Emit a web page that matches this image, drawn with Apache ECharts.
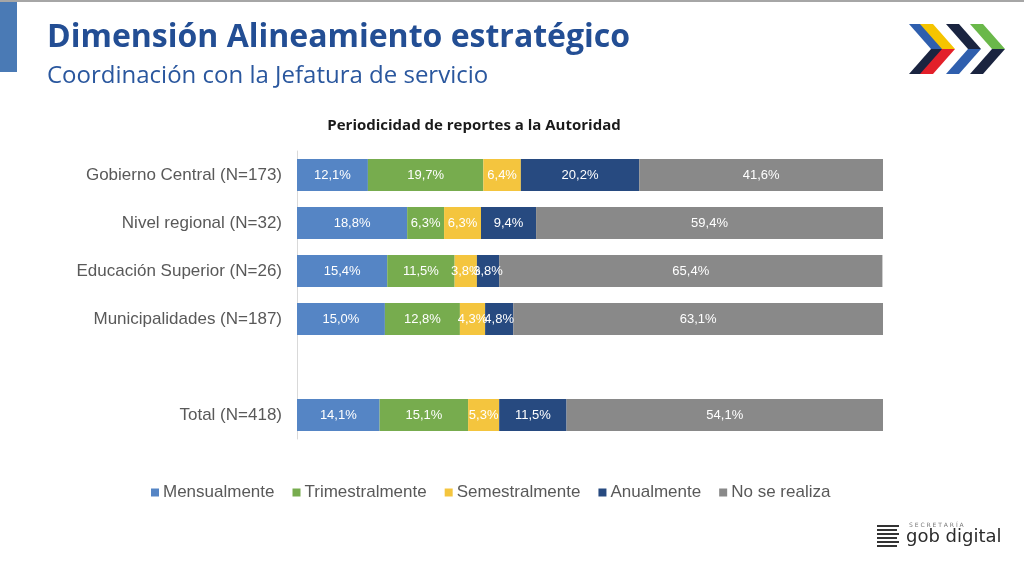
<!DOCTYPE html>
<html><head><meta charset="utf-8">
<script src="https://cdn.jsdelivr.net/npm/echarts@6/dist/echarts.min.js"></script>
<style>html,body{margin:0;padding:0;background:#fff;}#c{width:1024px;height:576px;}</style>
</head><body><div id="c"></div>
<script>
const categories = ['Gobierno Central (N=173)', 'Nivel regional (N=32)', 'Educación Superior (N=26)', 'Municipalidades (N=187)', '', 'Total (N=418)'];
const seriesNames = ['Mensualmente', 'Trimestralmente', 'Semestralmente', 'Anualmente', 'No se realiza'];
const mensualmente = [12.1, 18.8, 15.4, 15.0, null, 14.1];
const trimestralmente = [19.7, 6.3, 11.5, 12.8, null, 15.1];
const semestralmente = [6.4, 6.3, 3.8, 4.3, null, 5.3];
const anualmente = [20.2, 9.4, 3.8, 4.8, null, 11.5];
const noSeRealiza = [41.6, 59.4, 65.4, 63.1, null, 54.1];
const colors = ['#5585C5', '#77AC4E', '#F4C53E', '#274A80', '#898989'];
const values = [mensualmente, trimestralmente, semestralmente, anualmente, noSeRealiza];

function chevron(x, cTop, cBot) {
  const t = 24, m = 49, b = 74, w = 13, r = 22;
  return [
    {type: 'polygon', shape: {points: [[x, t], [x + w, t], [x + w + r, m], [x + r, m]]}, style: {fill: cTop}},
    {type: 'polygon', shape: {points: [[x + r, m], [x + w + r, m], [x + w, b], [x, b]]}, style: {fill: cBot}}
  ];
}

const chart = echarts.init(document.getElementById('c'));
const graphics = [
  {type: 'rect', shape: {x: 0, y: 0, width: 1024, height: 2}, style: {fill: '#a6a6a6'}},
  {type: 'rect', shape: {x: 0, y: 2, width: 17, height: 70}, style: {fill: '#4A7AB5'}},
  {type: 'text', left: 47, top: 22, style: {text: 'Dimensión Alineamiento estratégico', font: 'bold 32px "Open Sans"', fill: '#234E94'}},
  {type: 'text', left: 47, top: 64, style: {text: 'Coordinación con la Jefatura de servicio', font: '24px "Open Sans"', fill: '#2A579E'}},
  ...chevron(909, '#2F5FAE', '#1A2440'),
  ...chevron(920, '#F5C400', '#E3202A'),
  ...chevron(946, '#1A2440', '#2F5FAE'),
  ...chevron(970, '#6AB84A', '#1A2440'),
  {type: 'text', left: 909, top: 522, style: {text: 'S E C R E T A R Í A', font: '6px "DejaVu Sans"', fill: '#777'}},
  {type: 'text', left: 906, top: 528, style: {text: 'gob digital', font: '18px "DejaVu Sans"', fill: '#2b2b2b'}}
];
for (let i = 0; i < 6; i++) {
  graphics.push({type: 'rect', shape: {x: 877, y: 525 + i * 4, width: i % 2 ? 20 : 22, height: 2}, style: {fill: '#333'}});
}

chart.setOption({
  animation: false,
  title: {
    text: 'Periodicidad de reportes a la Autoridad',
    left: 469, top: 113, textAlign: 'center',
    textStyle: {fontFamily: '"Open Sans"', fontWeight: 'bold', fontSize: 15, color: '#1a1a1a'}
  },
  graphic: graphics,
  legend: {
    data: seriesNames,
    left: 146, top: 479,
    icon: 'rect', itemWidth: 8, itemHeight: 8, itemGap: 18,
    textStyle: {fontFamily: '"Liberation Sans", Arial', fontSize: 17, color: '#595959', padding: [0, 0, 0, -1]}
  },
  grid: {left: 297, right: 141, top: 151, bottom: 137},
  xAxis: {type: 'value', min: 0, max: 100, show: false},
  yAxis: {
    type: 'category', data: categories, inverse: true,
    axisLine: {show: true, lineStyle: {color: '#d9d9d9'}},
    axisTick: {show: false},
    axisLabel: {fontFamily: '"Liberation Sans", Arial', fontSize: 17, color: '#595959', margin: 15}
  },
  series: seriesNames.map((n, i) => ({
    name: n, type: 'bar', stack: 'total', barWidth: 32,
    data: values[i],
    itemStyle: {color: colors[i]},
    label: {
      show: true, position: 'inside', color: '#fff',
      fontFamily: '"Liberation Sans", Arial', fontSize: 13,
      formatter: p => p.value == null ? '' : p.value.toFixed(1).replace('.', ',') + '%'
    }
  }))
});
</script></body></html>
